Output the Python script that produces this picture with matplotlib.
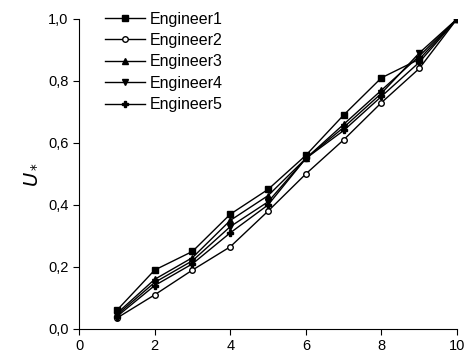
import matplotlib.pyplot as plt
from matplotlib.ticker import FuncFormatter

plt.rcParams['font.family'] = ['Liberation Sans', 'DejaVu Sans']

# values
x = [1, 2, 3, 4, 5, 6, 7, 8, 9, 10]
eng1 = [0.06, 0.19, 0.25, 0.37, 0.45, 0.56, 0.69, 0.81, 0.87, 1.0]
eng2 = [0.035, 0.11, 0.19, 0.265, 0.38, 0.50, 0.61, 0.73, 0.84, 1.0]
eng3 = [0.05, 0.16, 0.23, 0.35, 0.43, 0.55, 0.66, 0.77, 0.88, 1.0]
eng4 = [0.045, 0.15, 0.22, 0.33, 0.41, 0.55, 0.65, 0.76, 0.89, 1.0]
eng5 = [0.04, 0.14, 0.21, 0.31, 0.40, 0.55, 0.64, 0.75, 0.86, 1.0]
names = ["Engineer1", "Engineer2", "Engineer3", "Engineer4", "Engineer5"]

fig = plt.figure(figsize=(4.65, 3.56), dpi=100)
ax = fig.add_axes([0.170, 0.076, 0.813, 0.871])

ax.plot(x, eng1, color='black', lw=1, marker='s', ms=4, mfc='black', label=names[0])
ax.plot(x, eng2, color='black', lw=1, marker='o', ms=4, mfc='white', label=names[1])
ax.plot(x, eng3, color='black', lw=1, marker='^', ms=4, mfc='black', label=names[2])
ax.plot(x, eng4, color='black', lw=1, marker='v', ms=4, mfc='black', label=names[3])
ax.plot(x, eng5, color='black', lw=1, marker='P', ms=4.5, mfc='black', label=names[4])

ax.set_xlim(0, 10)
ax.set_ylim(0, 1.0)
ax.set_xticks([0, 2, 4, 6, 8, 10])
ax.set_yticks([0.0, 0.2, 0.4, 0.6, 0.8, 1.0])
ax.yaxis.set_major_formatter(FuncFormatter(lambda v, p: f"{v:.1f}".replace('.', ',')))

for s in ['top', 'right']:
    ax.spines[s].set_visible(False)
ax.tick_params(direction='out', length=4, labelsize=10.5)
ax.set_ylabel(r"$U_*$", fontsize=14, labelpad=6)

ax.legend(loc='upper left', bbox_to_anchor=(0.03, 1.07), frameon=False, fontsize=11.5,
          handlelength=2.5, labelspacing=0.4, handletextpad=0.3)

plt.savefig('out.png', dpi=100)
